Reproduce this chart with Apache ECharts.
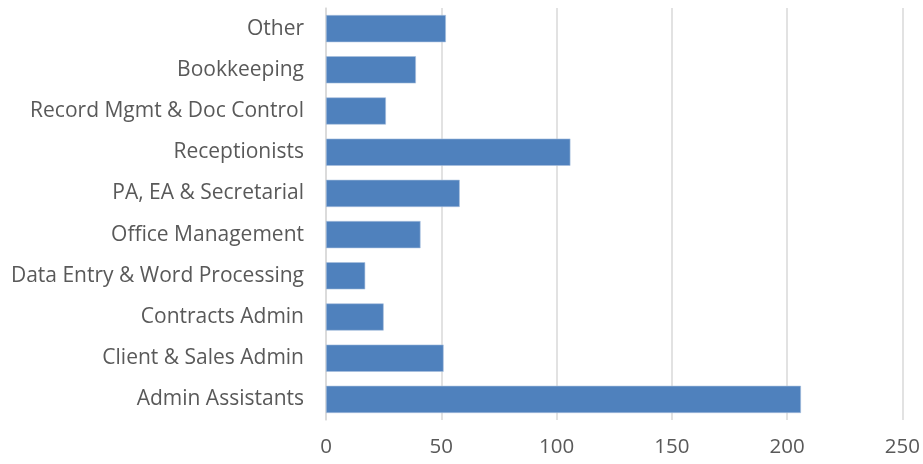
<!DOCTYPE html>
<html>
<head>
<meta charset="utf-8">
<script src="https://cdn.jsdelivr.net/npm/echarts@6/dist/echarts.min.js"></script>
<style>
  html, body { margin: 0; padding: 0; background: #fff; }
  #chart { width: 923px; height: 464px; }
</style>
</head>
<body>
<div id="chart"></div>
<script>
// Categories listed bottom to top (ECharts draws the first category at the bottom)
const categories = [
  'Admin Assistants',
  'Client & Sales Admin',
  'Contracts Admin',
  'Data Entry & Word Processing',
  'Office Management',
  'PA, EA & Secretarial',
  'Receptionists',
  'Record Mgmt & Doc Control',
  'Bookkeeping',
  'Other'
];
const counts = [206, 51, 25, 17, 41, 58, 106, 26, 39, 52];
const axisTicks = [0, 50, 100, 150, 200, 250];

const fontFamily = '"Open Sans", "Liberation Sans", sans-serif';
const textColor = '#595959';
const gridColor = '#d9d9d9';

const chart = echarts.init(document.getElementById('chart'), null, { renderer: 'canvas' });
chart.setOption({
  animation: false,
  grid: { left: 326, right: 19, top: 8, bottom: 44, containLabel: false },
  xAxis: {
    type: 'value',
    min: axisTicks[0],
    max: axisTicks[axisTicks.length - 1],
    interval: axisTicks[1] - axisTicks[0],
    axisLine: { show: false },
    axisTick: { show: false },
    splitLine: { show: true, lineStyle: { color: gridColor, width: 1.5 } },
    axisLabel: { color: textColor, fontFamily, fontSize: 20.5, margin: 17 }
  },
  yAxis: {
    type: 'category',
    data: categories,
    axisLine: { show: true, lineStyle: { color: gridColor, width: 1.5 } },
    axisTick: { show: false },
    axisLabel: { color: textColor, fontFamily, fontSize: 21, margin: 22 }
  },
  series: [{
    type: 'bar',
    data: counts,
    barCategoryGap: '34%',
    itemStyle: { color: '#4f81bd', borderColor: '#a7c0de', borderWidth: 0.6 }
  }]
});
</script>
</body>
</html>
